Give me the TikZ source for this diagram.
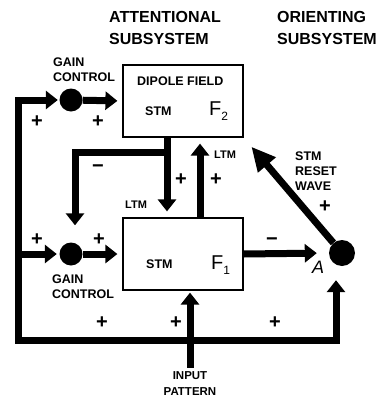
\documentclass[tikz,border=0pt]{standalone}
\usepackage{fontspec}
\setmainfont{Liberation Sans}
\usetikzlibrary{arrows.meta,positioning,calc}

\begin{document}
\begin{tikzpicture}[x=1pt,y=-1pt,
  every node/.style={font=\bfseries\fontsize{12.5}{15}\selectfont,align=left,inner sep=0pt},
  >={Triangle[length=12pt,width=18pt]},
  box/.style={draw,line width=1.2pt,minimum width=120pt,minimum height=72pt},
  gain/.style={circle,fill,minimum size=23pt},
  bar/.style={line width=7pt,line join=miter},
  sign/.style={font=\bfseries\fontsize{20}{20}\selectfont}]
  \useasboundingbox (0,0) rectangle (384,400);
  % titles
  \node[anchor=north west,font=\bfseries\fontsize{16}{22}\selectfont] (att) at (109,11) {ATTENTIONAL\\SUBSYSTEM};
  \node[anchor=north west,font=\bfseries\fontsize{16}{22}\selectfont] (ori) at (277,11) {ORIENTING\\SUBSYSTEM};
  % fields
  \node[box] (f2) at (183,101) {};
  \node[box] (f1) at (183,254) {};
  \node[anchor=base west] (dip) at (137,85) {DIPOLE FIELD};
  \node[anchor=base west] (s2) at (145,115) {STM};
  \node[anchor=base west] (s1) at (146,268) {STM};
  \node[anchor=base west,font=\fontsize{20}{20}\selectfont] (n2) at (209,115) {F\raisebox{-5pt}{\fontsize{12}{12}\selectfont 2}};
  \node[anchor=base west,font=\fontsize{20}{20}\selectfont] (n1) at (211,269) {F\raisebox{-5pt}{\fontsize{12}{12}\selectfont 1}};
  % gain control and orienting node
  \node[gain] (g2) at (71,100) {};
  \node[gain] (g1) at (71,254) {};
  \node[anchor=north west] (gt2) at (53,58) {GAIN\\CONTROL};
  \node[anchor=north west] (gt1) at (52,275) {GAIN\\CONTROL};
  \node[gain,minimum size=26pt] (a) at (342,253) {};
  \node[anchor=base west,font=\itshape\fontsize{18}{18}\selectfont] (al) at (312,273) {A};
  \node[anchor=north west] (rst) at (295,152) {STM\\RESET\\WAVE};
  \node[align=center,font=\bfseries\fontsize{11.5}{16}\selectfont] (inp) at (190,384) {INPUT\\PATTERN};
  \node[anchor=base west,font=\bfseries\fontsize{11}{11}\selectfont] (l1) at (125,208) {LTM};
  \node[anchor=base west,font=\bfseries\fontsize{11}{11}\selectfont] (l2) at (214,158) {LTM};
  % connectors
  \coordinate (lt) at (18,100);
  \coordinate (lb) at (18,340);
  \coordinate (rb) at (336,340);
  \coordinate (br) at (167,152);
  \coordinate (bl) at (75,152);
  \draw[bar,<->,shorten <=1.5pt,shorten >=14pt] (g2.west) -- (lt) -- (lb) -- (rb) -- (rb |- a.south);
  \draw[bar,->,shorten >=2.5pt] (lb |- g1) -- (g1.west);
  \draw[bar,->,shorten >=5pt] (g2) -- (f2.west);
  \draw[bar,->,shorten >=5pt] (g1) -- (f1.west);
  \draw[bar,->,shorten >=6pt] ([xshift=-16pt]f2.south) -- ([xshift=-16pt]f1.north);
  \draw[bar,->,shorten >=17pt] (br) -- (bl) -- (bl |- g1.north);
  \draw[bar,->,shorten >=6pt] ([xshift=17pt]f1.north) -- ([xshift=17pt]f2.south);
  \draw[bar,->,shorten >=12pt] (f1.east) -- (a.west);
  \draw[bar,-{Triangle[length=24pt,width=22pt]},shorten >=12pt] (a) -- (f2.south east);
  \draw[bar,->,shorten >=2pt] ([yshift=4pt]inp.north) -- (inp.north |- f1.south);
  % signs
  \node[sign] (p1) at (37,122) {+};
  \node[sign] (p2) at (98,122) {+};
  \node[sign] (p3) at (37,240) {+};
  \node[sign] (p4) at (99,240) {+};
  \node[sign] (p5) at (181,180) {+};
  \node[sign] (p6) at (216,180) {+};
  \node[sign] (p7) at (325,207) {+};
  \node[sign] (p8) at (102,323) {+};
  \node[sign] (p9) at (176,323) {+};
  \node[sign] (p10) at (275,323) {+};
  \node[sign] (m1) at (98,169) {−};
  \node[sign] (m2) at (272,242) {−};
\end{tikzpicture}
\end{document}
